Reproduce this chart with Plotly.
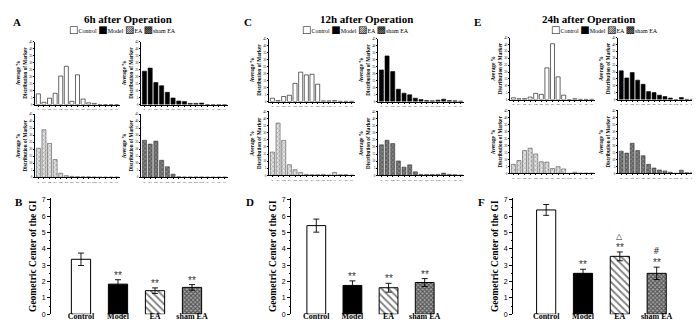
import plotly.graph_objects as go

W, H = 700, 322

# ---------------- data ----------------
cats = ["st", "si1", "si2", "si3", "si4", "si5", "si6", "si7", "si8", "si9", "si10", "ce", "c1", "c2", "c3"]
groups = ["Control", "Model", "EA", "sham EA"]

# distribution of marker (%), 6h
ctrl_6h = [7.6, 1.6, 4.5, 8.0, 20.3, 27.3, 2.3, 21.2, 3.9, 1.2, 0.8, 0, 0, 0, 0]
model_6h = [23.8, 26.0, 15.7, 13.4, 8.7, 4.7, 2.5, 2.1, 0.8, 0.8, 1.0, 0, 0, 0, 0]
ea_6h = [20.8, 34.0, 24.2, 12.7, 3.0, 1.2, 0.7, 0.5, 0.4, 0.4, 0.3, 0.2, 0.2, 0.2, 0.2]
sham_6h = [26.5, 23.8, 25.9, 12.2, 7.6, 2.3, 0.4, 0.3, 0.3, 0.3, 0.3, 0.2, 0.2, 0.2, 0.2]

# 12h
ctrl_12h = [2.4, 0.7, 3.6, 4.5, 13.0, 21.0, 19.0, 19.5, 12.4, 0.5, 0.5, 0.7, 0.2, 0.2, 0.2]
model_12h = [22.6, 32.6, 21.4, 8.8, 6.0, 4.8, 2.4, 1.4, 0.7, 0.5, 1.0, 1.7, 0.7, 0.5, 0.3]
ea_12h = [16.4, 36.8, 24.6, 7.5, 4.0, 2.1, 0.7, 0.5, 0.5, 0.7, 0.3, 2.1, 0.5, 0.5, 0.2]
sham_12h = [21.5, 24.7, 22.4, 10.2, 5.8, 7.4, 2.5, 0.7, 0.7, 0.7, 0.7, 1.6, 0.7, 0.5, 0.3]

# 24h
ctrl_24h = [1.3, 0.6, 0.7, 1.8, 4.5, 3.8, 23.0, 40.5, 16.5, 3.2, 0, 0.6, 0.2, 0.2, 0.2]
model_24h = [20.9, 15.7, 19.6, 14.1, 11.1, 5.8, 5.1, 3.2, 2.2, 1.1, 0, 1.5, 0.2, 0.2, 0.2]
ea_24h = [6.5, 9.2, 16.4, 18.0, 13.9, 8.3, 8.1, 3.5, 4.8, 3.2, 0, 0.9, 0.2, 0.2, 0.2]
sham_24h = [15.9, 14.5, 21.5, 16.4, 12.7, 6.5, 3.9, 2.5, 1.8, 0.9, 0.2, 2.3, 0.5, 0.5, 0.2]

# geometric center of the GI (mean, error)
gc_6h = [3.36, 1.84, 1.44, 1.64]
gc_6h_err = [0.38, 0.27, 0.17, 0.17]
gc_12h = [5.42, 1.76, 1.62, 1.94]
gc_12h_err = [0.40, 0.28, 0.27, 0.24]
gc_24h = [6.38, 2.50, 3.54, 2.50]
gc_24h_err = [0.33, 0.25, 0.27, 0.38]

sig_6h = ["", "**", "**", "**"]
sig_12h = ["", "**", "**", "**"]
sig_24h = ["", "**", "**", "**"]
mark_6h = ["", "", "", ""]
mark_12h = ["", "", "", ""]
mark_24h = ["", "", "\u25b3", "#"]

titles = ["6h after Operation", "12h after Operation", "24h after Operation"]
hist_letters = ["A", "C", "E"]
bar_letters = ["B", "D", "F"]
hist_ylabel = "Average %<br>Distribution of Marker"
bar_ylabel = "Geometric Center of the GI"

# ---------------- styling ----------------
SERIF = "Liberation Serif"
SANS = "Liberation Sans"

hist_marker = {
    "Control": dict(color="white", line=dict(color="black", width=0.6)),
    "Model": dict(color="black", line=dict(color="black", width=0.6)),
    "EA": dict(color="#e6e6e6", line=dict(color="#333", width=0.5),
               pattern=dict(shape="x", fgcolor="#555", bgcolor="#e6e6e6", size=3, solidity=0.35)),
    "sham EA": dict(color="#888", line=dict(color="#222", width=0.5),
                    pattern=dict(shape="x", fgcolor="#222", bgcolor="#8c8c8c", size=3, solidity=0.5)),
}
bar_marker = {
    "Control": dict(color="white", line=dict(color="black", width=1)),
    "Model": dict(color="black", line=dict(color="black", width=1)),
    "EA": dict(color="white", line=dict(color="black", width=1),
               pattern=dict(shape="\\", fgcolor="black", bgcolor="white", size=5, solidity=0.35)),
    "sham EA": dict(color="#555", line=dict(color="black", width=1),
                    pattern=dict(shape="x", fgcolor="black", bgcolor="#aaa", size=3, solidity=0.6)),
}


def xdom(x0, x1):
    return [x0 / W, x1 / W]


def ydom(top, bottom):
    return [1 - bottom / H, 1 - top / H]


fig = go.Figure()
layout = dict(
    width=W, height=H, margin=dict(l=0, r=0, t=0, b=0),
    paper_bgcolor="white", plot_bgcolor="white", showlegend=False,
    font=dict(family=SERIF, color="black"),
)
annotations = []

# panel geometry (pixels)
panels = [
    dict(left=(27, 112), right=(133, 220), top=(32, 96), bottom=(106, 170),
         title_x=120, legend_x=114, letter=(3, 12)),
    dict(left=(261, 347), right=(370, 456), top=(29, 93), bottom=(103, 168),
         title_x=358, legend_x=347, letter=(234, 12)),
    dict(left=(502, 587), right=(610, 693), top=(28, 91), bottom=(102, 166),
         title_x=580, legend_x=596, letter=(464, 12)),
]
hist_data = [
    [ctrl_6h, model_6h, ea_6h, sham_6h],
    [ctrl_12h, model_12h, ea_12h, sham_12h],
    [ctrl_24h, model_24h, ea_24h, sham_24h],
]

ax = 0
for p, panel in enumerate(panels):
    boxes = [(panel["left"], panel["top"]), (panel["right"], panel["top"]),
             (panel["left"], panel["bottom"]), (panel["right"], panel["bottom"])]
    for g, (xr, yr) in enumerate(boxes):
        ax += 1
        sfx = "" if ax == 1 else str(ax)
        fig.add_trace(go.Bar(
            x=cats, y=hist_data[p][g], name=groups[g], width=0.72,
            marker=hist_marker[groups[g]], xaxis="x" + sfx, yaxis="y" + sfx,
        ))
        layout["xaxis" + sfx] = dict(
            domain=xdom(*xr), anchor="y" + sfx, type="category",
            range=[-0.6, 14.6], showline=True, linecolor="black", linewidth=0.6,
            ticks="outside", ticklen=1.2, tickwidth=0.5, tickcolor="black",
            tickmode="linear", tick0=0, dtick=1, tickangle=0,
            tickfont=dict(size=2.8, family=SERIF), showgrid=False, zeroline=False,
        )
        layout["yaxis" + sfx] = dict(
            domain=ydom(*yr), anchor="x" + sfx, range=[0, 45], dtick=5,
            showline=True, linecolor="black", linewidth=0.6,
            ticks="outside", ticklen=1.2, tickwidth=0.5, tickcolor="black",
            tickfont=dict(size=3.2, family=SERIF), showgrid=False, zeroline=False,
            title=dict(text=hist_ylabel, standoff=1,
                       font=dict(size=5.2, family=SERIF, weight="bold")),
        )
    # panel title
    annotations.append(dict(
        text=titles[p], x=panel["title_x"] / W, y=1 - 9 / H, xref="paper", yref="paper",
        xanchor="center", yanchor="middle", showarrow=False,
        font=dict(size=11, family=SERIF, weight="bold"),
    ))
    # letter
    annotations.append(dict(
        text=hist_letters[p], x=panel["letter"][0] / W, y=1 - panel["letter"][1] / H,
        xref="paper", yref="paper", xanchor="left", yanchor="middle", showarrow=False,
        font=dict(size=11, family=SERIF, weight="bold"),
    ))
    # legend key (text glyphs)
    sym = ["\u25a1", "\u25a0", "\u25a8", "\u25a9"]
    parts = []
    for s, gname in zip(sym, groups):
        parts.append('<span style="font-family:DejaVu Sans;font-size:10px">' + s + '</span>'
                     + '<span style="font-size:6px">' + gname + '</span>')
    annotations.append(dict(
        text=" ".join(parts), x=panel["legend_x"] / W, y=1 - 20 / H,
        xref="paper", yref="paper", xanchor="center", yanchor="middle", showarrow=False,
        font=dict(size=6, family=SERIF, color="black"),
    ))

# ---------------- bar charts ----------------
bar_panels = [
    dict(x=(43, 214), rng=[-0.81, 3.81], vals=gc_6h, err=gc_6h_err, sig=sig_6h, mark=mark_6h, letter=(5, 195)),
    dict(x=(283, 442), rng=[-0.70, 3.70], vals=gc_12h, err=gc_12h_err, sig=sig_12h, mark=mark_12h, letter=(236, 195)),
    dict(x=(505, 680), rng=[-0.90, 3.85], vals=gc_24h, err=gc_24h_err, sig=sig_24h, mark=mark_24h, letter=(468, 195)),
]
ymax = 7.1
for b, bp in enumerate(bar_panels):
    ax += 1
    sfx = str(ax)
    for g, gname in enumerate(groups):
        fig.add_trace(go.Bar(
            x=[gname], y=[bp["vals"][g]], width=0.52, name=gname,
            marker=bar_marker[gname],
            error_y=dict(type="data", array=[bp["err"][g]], color="black", thickness=0.9, width=3),
            xaxis="x" + sfx, yaxis="y" + sfx,
        ))
        top = bp["vals"][g] + bp["err"][g]
        if bp["sig"][g]:
            annotations.append(dict(
                text=bp["sig"][g], x=gname, y=top, xref="x" + sfx, yref="y" + sfx,
                xanchor="center", yanchor="bottom", yshift=-3, showarrow=False,
                font=dict(size=10, family=SANS, color="#333"),
            ))
        if bp["mark"][g]:
            annotations.append(dict(
                text=bp["mark"][g], x=gname, y=top, xref="x" + sfx, yref="y" + sfx,
                xanchor="center", yanchor="bottom", yshift=9, showarrow=False,
                font=dict(size=8, family="DejaVu Sans", color="#333"),
            ))
    layout["xaxis" + sfx] = dict(
        domain=xdom(*bp["x"]), anchor="y" + sfx, type="category", range=bp["rng"],
        showline=False, ticks="", showgrid=False, zeroline=False,
        ticklabelstandoff=-4,
        tickfont=dict(size=8, family=SERIF, weight="bold"),
    )
    layout["yaxis" + sfx] = dict(
        domain=[1 - 309 / H, 1 - (309 - ymax * 16.6) / H], anchor="x" + sfx,
        range=[0, ymax], dtick=1, showline=True, linecolor="black", linewidth=1,
        ticks="outside", ticklen=3, tickwidth=1, tickcolor="black",
        minor=dict(ticks="outside", ticklen=1.5, dtick=0.5, tickcolor="black"),
        tickfont=dict(size=7, family=SANS), showgrid=False, zeroline=False,
        title=dict(text=bar_ylabel, standoff=3, font=dict(size=9.5, family=SERIF, weight="bold")),
    )
    annotations.append(dict(
        text=bar_letters[b], x=bp["letter"][0] / W, y=1 - bp["letter"][1] / H,
        xref="paper", yref="paper", xanchor="left", yanchor="middle", showarrow=False,
        font=dict(size=11, family=SERIF, weight="bold"),
    ))

layout["annotations"] = annotations
fig.update_layout(**layout)
fig.write_html("out.html")
